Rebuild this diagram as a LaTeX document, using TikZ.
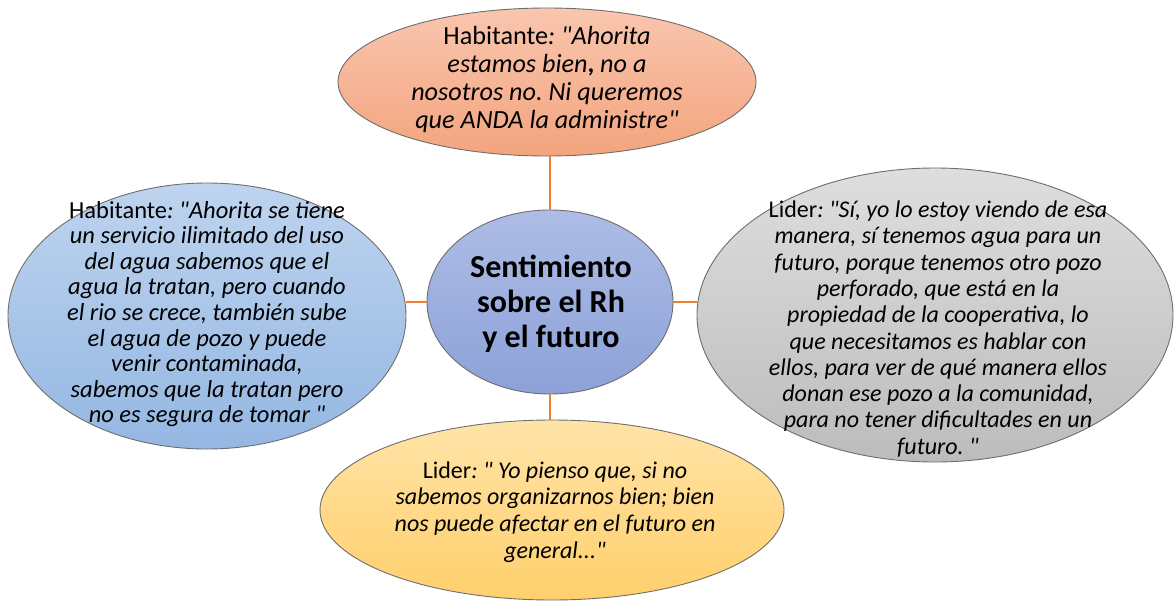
\documentclass[tikz,border=0pt]{standalone}
\usepackage{fontspec}
\setmainfont{Carlito}
\frenchspacing
\usetikzlibrary{shapes.geometric}
\newcommand{\dq}{\textquotedbl}
\definecolor{conn}{HTML}{ED7D31}
\definecolor{edge}{HTML}{6E6E6E}
\tikzset{
  bubble/.style={ellipse, draw=edge, line width=0.9pt, inner sep=0pt},
  quote/.style={align=center, font=\fontsize{24.5}{26.2}\selectfont, inner sep=0pt},
  link/.style={draw=conn, line width=1.6pt}
}
\begin{document}
\begin{tikzpicture}[x=1pt,y=-1pt]
\useasboundingbox (0,0) rectangle (1174,602);
% ellipses
\node[bubble, minimum width=418pt, minimum height=148pt, top color={rgb,255:red,249;green,198;blue,175}, bottom color={rgb,255:red,243;green,164;blue,126}] (top) at (547,82) {};
\node[bubble, minimum width=398pt, minimum height=266pt, top color={rgb,255:red,190;green,212;blue,239}, bottom color={rgb,255:red,148;green,183;blue,226}] (left) at (207,316) {};
\node[bubble, minimum width=476pt, minimum height=294pt, top color={rgb,255:red,222;green,222;blue,222}, bottom color={rgb,255:red,188;green,188;blue,188}] (right) at (935,315) {};
\node[bubble, minimum width=464pt, minimum height=180pt, top color={rgb,255:red,255;green,228;blue,168}, bottom color={rgb,255:red,255;green,207;blue,108}] (bottom) at (552,510) {};
\node[bubble, minimum width=246pt, minimum height=184pt, top color={rgb,255:red,174;green,189;blue,230}, bottom color={rgb,255:red,140;green,161;blue,216}] (center) at (550,302) {};
% connectors
\draw[link] (center.north) -- (center.north |- top.south);
\draw[link] (center.west) -- (left.east |- center.west);
\draw[link] (center.east) -- (right.west |- center.east);
\draw[link] (center.south) -- (center.south |- bottom.north);
% texts
\node[align=center, inner sep=0pt, font=\fontsize{32}{35}\selectfont\bfseries] (ctext) at (551,304) {Sentimiento\\sobre el Rh\\y el futuro};
\node[quote, font=\fontsize{26.2}{28}\selectfont] (ttext) at (547,80) {Habitante\textit{: \dq Ahorita}\\\textit{estamos bien}{\bfseries,}\textit{ no a}\\\textit{nosotros no. Ni queremos}\\\textit{que ANDA la administre\dq}};
\node[quote, font=\fontsize{24.5}{25.6}\selectfont] (ltext) at (207,314) {Habitante\textit{: \dq Ahorita se tiene}\\\textit{un servicio ilimitado del uso}\\\textit{del agua sabemos que el}\\\textit{agua la tratan, pero cuando}\\\textit{el rio se crece, también sube}\\\textit{el agua de pozo y puede}\\\textit{venir contaminada,}\\\textit{sabemos que la tratan pero}\\\textit{no es segura de tomar \dq}};
\node[quote, font=\fontsize{24}{26.3}\selectfont] (rtext) at (938,329) {Lider\textit{: \dq Sí, yo lo estoy viendo de esa}\\\textit{manera, sí tenemos agua para un}\\\textit{futuro, porque tenemos otro pozo}\\\textit{perforado, que está en la}\\\textit{propiedad de la cooperativa, lo}\\\textit{que necesitamos es hablar con}\\\textit{ellos, para ver de qué manera ellos}\\\textit{donan ese pozo a la comunidad,}\\\textit{para no tener dificultades en un}\\\textit{futuro. \dq}};
\node[quote, font=\fontsize{24}{26.7}\selectfont] (btext) at (555,512) {Lider\textit{: \dq{} Yo pienso que, si no}\\\textit{sabemos organizarnos bien; bien}\\\textit{nos puede afectar en el futuro en}\\\textit{general...\dq}};
\end{tikzpicture}
\end{document}
